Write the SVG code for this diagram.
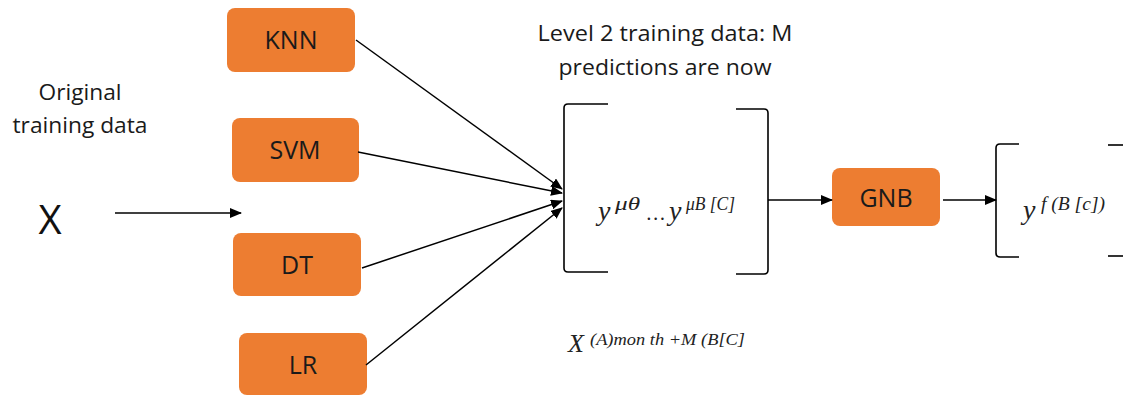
<svg xmlns="http://www.w3.org/2000/svg" width="1123" height="396" viewBox="0 0 1123 396">
<style>
.box{fill:#ED7D31;}
.lbl{font-family:"Open Sans","Liberation Sans",sans-serif;font-size:25px;fill:#1a1a1a;text-anchor:middle;}
.txt{font-family:"Open Sans","Liberation Sans",sans-serif;font-size:22px;fill:#1a1a1a;text-anchor:middle;}
.math{font-family:"Liberation Serif","DejaVu Serif",serif;font-style:italic;fill:#222;}
.ln{stroke:#000;stroke-width:1.5;fill:none;}
.br{stroke:#000;stroke-width:1.6;fill:none;}
</style>
<defs>
<marker id="ah" viewBox="0 0 12 10" refX="11" refY="5" markerWidth="12" markerHeight="10" markerUnits="userSpaceOnUse" orient="auto">
<path d="M0,0 L12,5 L0,10 Z" fill="#000"/>
</marker>
</defs>
<g id="label-original"><text class="txt" x="80" y="100" textLength="83" lengthAdjust="spacingAndGlyphs">Original</text><text class="txt" x="80" y="133" textLength="135" lengthAdjust="spacingAndGlyphs">training data</text></g>
<g id="label-x"><text x="50" y="234" font-family="Open Sans, Liberation Sans, sans-serif" font-size="40" text-anchor="middle" fill="#111">X</text></g>
<g id="label-level2"><text class="txt" x="665" y="41" textLength="255" lengthAdjust="spacingAndGlyphs">Level 2 training data:  M</text><text class="txt" x="665" y="75" textLength="213" lengthAdjust="spacingAndGlyphs">predictions are now</text></g>
<g id="knn"><rect class="box" x="227" y="8" width="128" height="64" rx="8"/><text class="lbl" x="291" y="49">KNN</text></g>
<g id="svm"><rect class="box" x="232" y="118" width="127" height="64" rx="8"/><text class="lbl" x="295" y="159">SVM</text></g>
<g id="dt"><rect class="box" x="233" y="233" width="128" height="63" rx="8"/><text class="lbl" x="297" y="274">DT</text></g>
<g id="lr"><rect class="box" x="239" y="333" width="128" height="62" rx="8"/><text class="lbl" x="303" y="374">LR</text></g>
<g id="level2-matrix">
<path class="br" d="M608,104 L568,104 Q564,104 564,108 L564,268 Q564,272 568,272 L608,272"/>
<path class="br" d="M736,109 L764,109 Q768,109 768,113 L768,270 Q768,274 764,274 L736,274"/>
<text class="math" x="598" y="220" font-size="28">y</text>
<text class="math" x="615" y="210" font-size="19" textLength="25" lengthAdjust="spacingAndGlyphs">μθ</text>
<text class="math" x="647" y="220" font-size="22" textLength="18" lengthAdjust="spacingAndGlyphs">…</text>
<text class="math" x="669" y="220" font-size="28">y</text>
<text class="math" x="686" y="210" font-size="19" textLength="49" lengthAdjust="spacingAndGlyphs">μB [C]</text>
</g>
<g id="gnb"><rect class="box" x="832" y="168" width="108" height="58" rx="8"/><text class="lbl" x="886" y="207">GNB</text></g>
<g id="output-matrix">
<path class="br" d="M1019,144 L1000,144 Q996,144 996,148 L996,253 Q996,257 1000,257 L1019,257"/>
<path class="br" d="M1108,145 L1123,145"/>
<path class="br" d="M1108,256 L1123,256"/>
<text class="math" x="1023" y="219" font-size="28">y</text>
<text class="math" x="1041" y="210" font-size="19" textLength="64" lengthAdjust="spacingAndGlyphs">f (B [c])</text>
</g>
<g id="label-xa"><text class="math" x="568" y="352" font-size="26">X</text><text class="math" x="590" y="345" font-size="17" textLength="155" lengthAdjust="spacingAndGlyphs">(A)mon th +M (B[C]</text></g>
<g id="connectors">
<line class="ln" x1="115" y1="213" x2="241" y2="213" marker-end="url(#ah)"/>
<line class="ln" x1="356" y1="40" x2="562" y2="189" marker-end="url(#ah)"/>
<line class="ln" x1="358" y1="152" x2="562" y2="193" marker-end="url(#ah)"/>
<line class="ln" x1="362" y1="268" x2="562" y2="201" marker-end="url(#ah)"/>
<line class="ln" x1="366" y1="365" x2="562" y2="208" marker-end="url(#ah)"/>
<line class="ln" x1="768" y1="200" x2="832" y2="200" marker-end="url(#ah)"/>
<line class="ln" x1="943" y1="200" x2="996" y2="200" marker-end="url(#ah)"/>
</g>
</svg>
